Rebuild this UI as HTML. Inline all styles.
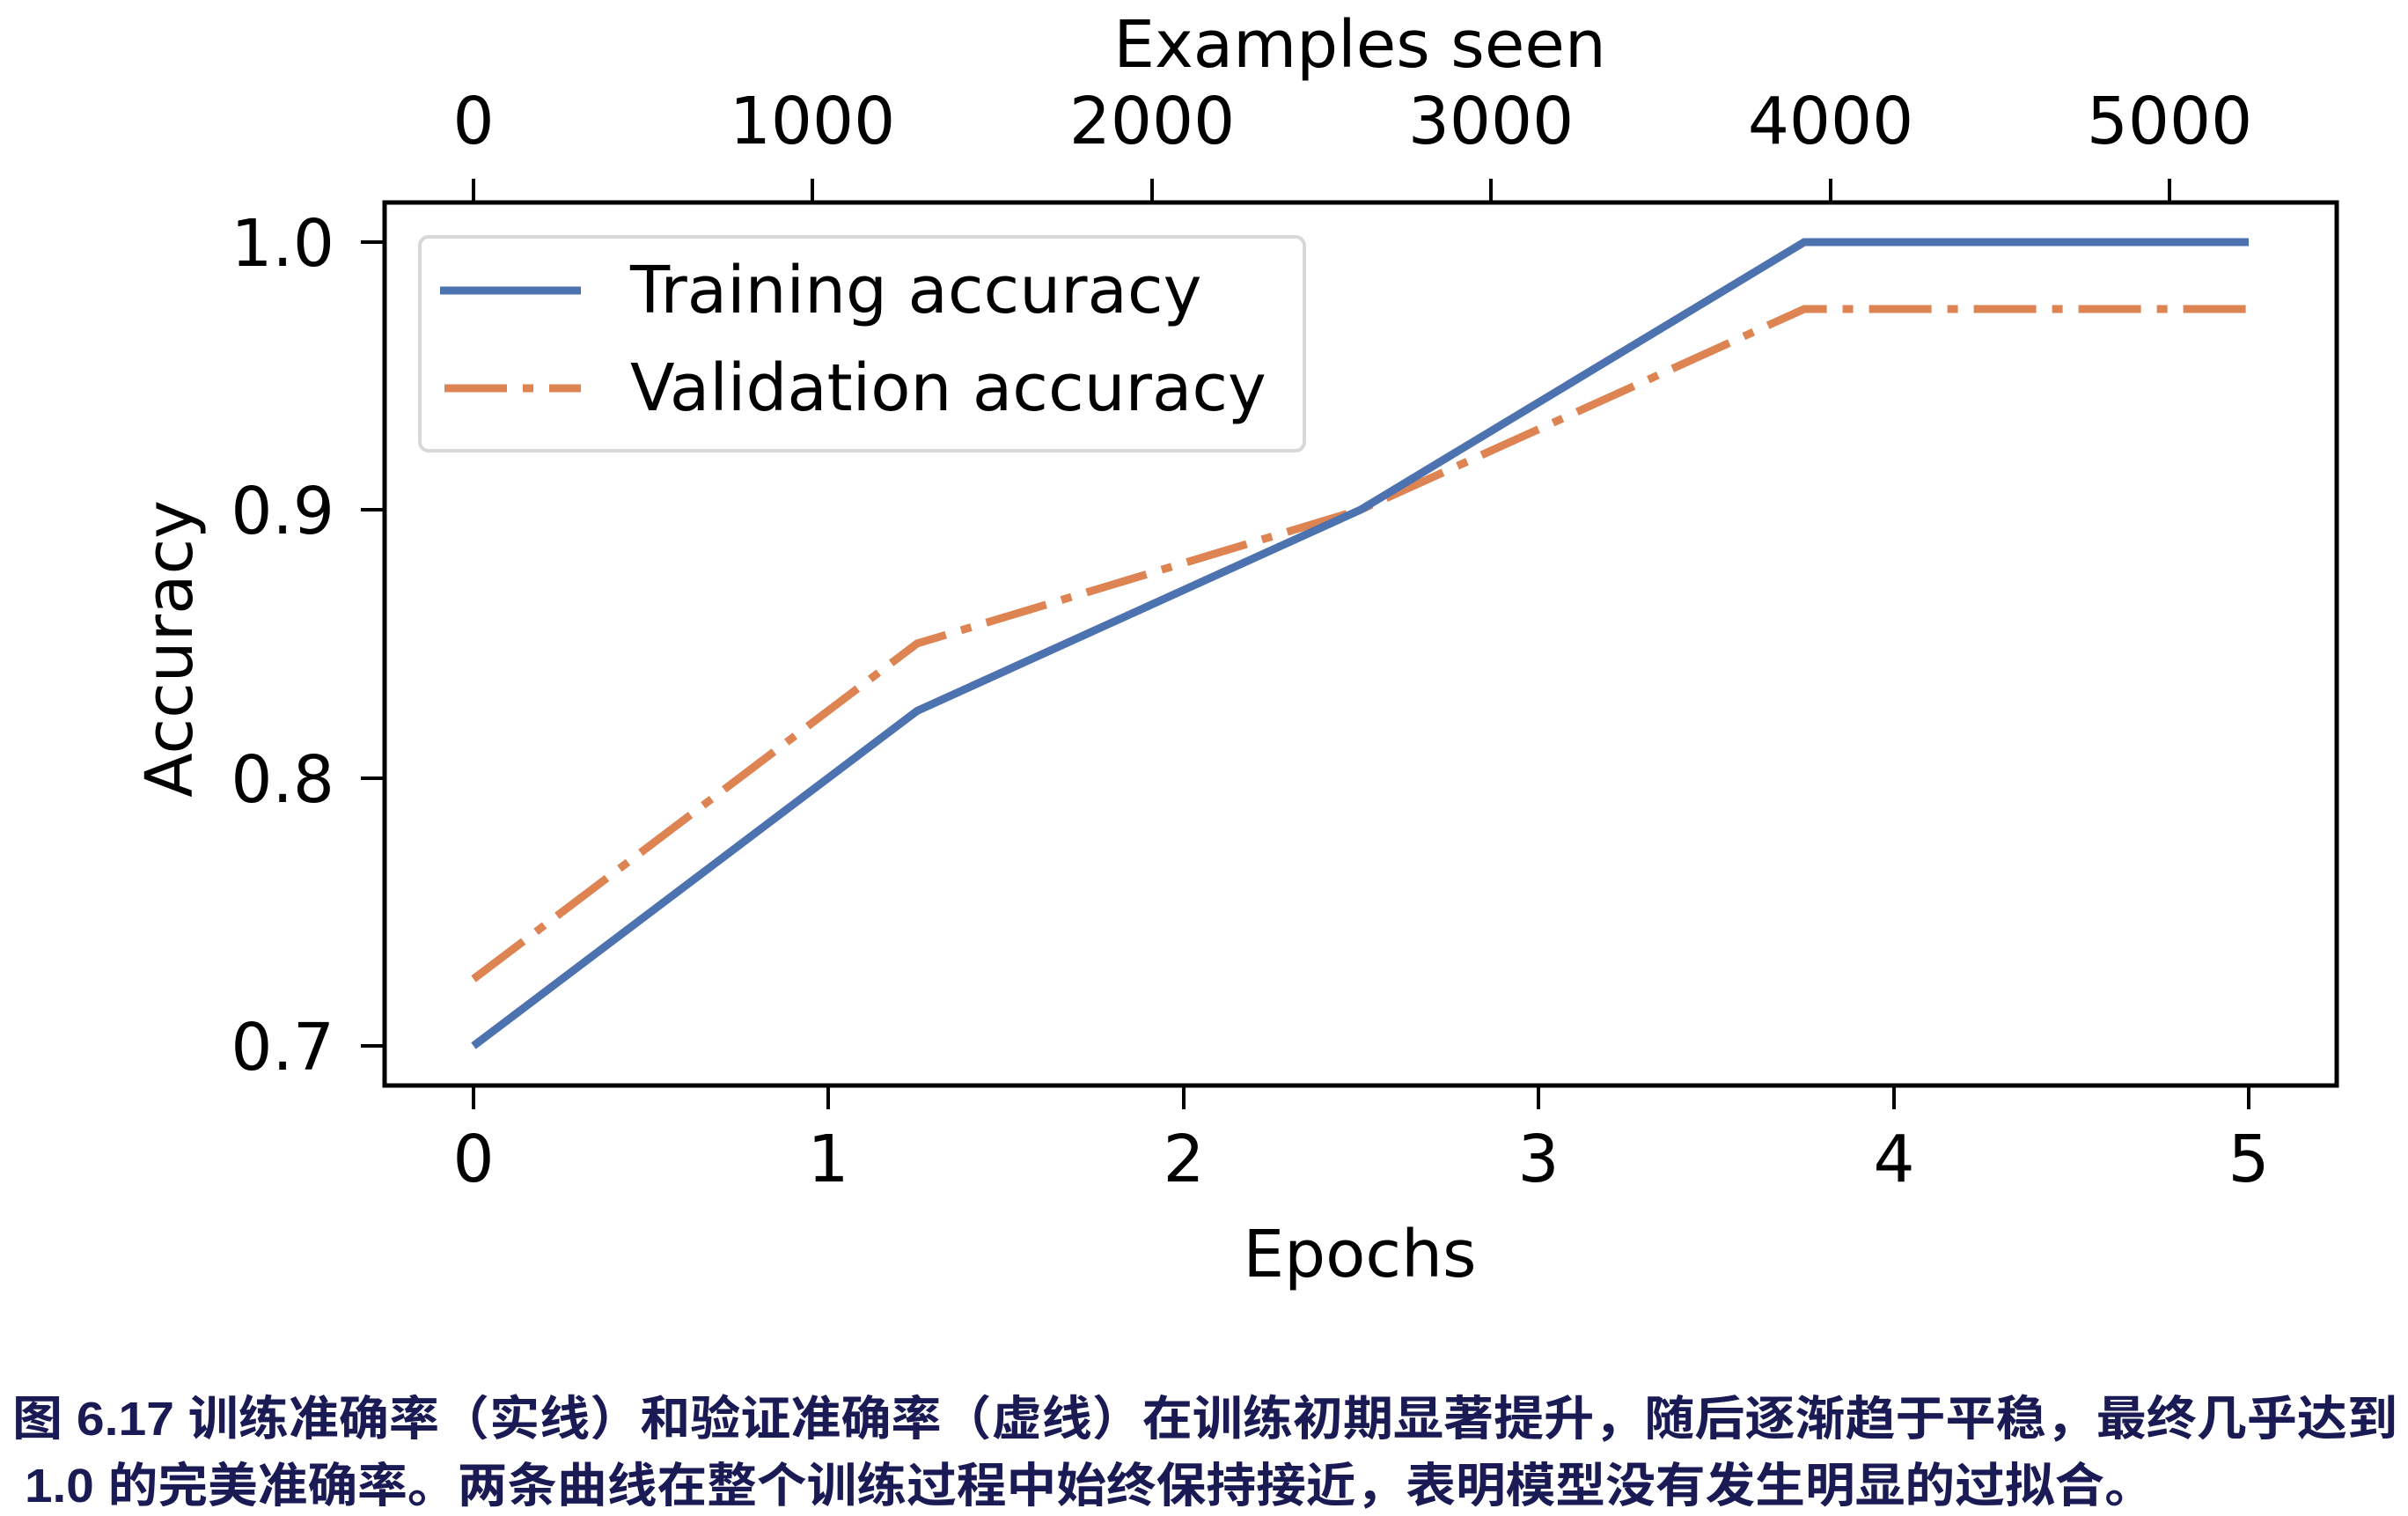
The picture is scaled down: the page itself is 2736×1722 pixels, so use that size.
<!DOCTYPE html>
<html><head><meta charset="utf-8"><style>
html,body{margin:0;padding:0;background:#fff;}
svg{display:block}
</style></head><body>
<svg width="2736" height="1722" viewBox="0 0 2736 1722" xmlns="http://www.w3.org/2000/svg" font-family="'DejaVu Sans','Liberation Sans',sans-serif">
<rect width="2736" height="1722" fill="#fff"/>
<polyline points="538,1112 1042,731 1546,579 2050,351 2555,351" fill="none" stroke="#dd8452" stroke-width="9" stroke-dasharray="71 18 12 18"/>
<polyline points="538,1188 1042,807.5 1546,579 2050,275 2555,275" fill="none" stroke="#4c72b0" stroke-width="9"/>
<rect x="437" y="230" width="2218" height="1003" fill="none" stroke="#000" stroke-width="5"/>
<g stroke="#000" stroke-width="4">
<line x1="410" y1="275" x2="437" y2="275"/>
<line x1="410" y1="579" x2="437" y2="579"/>
<line x1="410" y1="884" x2="437" y2="884"/>
<line x1="410" y1="1188" x2="437" y2="1188"/>
<line x1="538" y1="1233" x2="538" y2="1260"/>
<line x1="941" y1="1233" x2="941" y2="1260"/>
<line x1="1345" y1="1233" x2="1345" y2="1260"/>
<line x1="1748" y1="1233" x2="1748" y2="1260"/>
<line x1="2152" y1="1233" x2="2152" y2="1260"/>
<line x1="2555" y1="1233" x2="2555" y2="1260"/>
<line x1="538" y1="203" x2="538" y2="230"/>
<line x1="923" y1="203" x2="923" y2="230"/>
<line x1="1309" y1="203" x2="1309" y2="230"/>
<line x1="1694" y1="203" x2="1694" y2="230"/>
<line x1="2080" y1="203" x2="2080" y2="230"/>
<line x1="2465" y1="203" x2="2465" y2="230"/>
</g>
<g font-size="74" fill="#000">
<g text-anchor="end">
<text x="380" y="302">1.0</text>
<text x="380" y="606">0.9</text>
<text x="380" y="911">0.8</text>
<text x="380" y="1215">0.7</text>
</g>
<g text-anchor="middle">
<text x="538" y="1342">0</text>
<text x="941" y="1342">1</text>
<text x="1345" y="1342">2</text>
<text x="1748" y="1342">3</text>
<text x="2152" y="1342">4</text>
<text x="2555" y="1342">5</text>
<text x="1545" y="1450">Epochs</text>
<text x="538" y="163">0</text>
<text x="923" y="163">1000</text>
<text x="1309" y="163">2000</text>
<text x="1694" y="163">3000</text>
<text x="2080" y="163">4000</text>
<text x="2465" y="163">5000</text>
<text x="1545" y="76">Examples seen</text>
<text transform="translate(218,737) rotate(-90)">Accuracy</text>
</g>
</g>
<rect x="477" y="269" width="1005" height="243" rx="10" fill="#fff" fill-opacity="0.85" stroke="#d8d8d8" stroke-width="4"/>
<line x1="500" y1="330" x2="660" y2="330" stroke="#4c72b0" stroke-width="9"/>
<line x1="505" y1="441" x2="660" y2="441" stroke="#dd8452" stroke-width="9" stroke-dasharray="71 18 12 18"/>
<g font-size="74" fill="#000">
<text x="716" y="355">Training accuracy</text>
<text x="716" y="466">Validation accuracy</text>
</g>
<g font-family="'Liberation Sans','Noto Sans CJK SC',sans-serif" font-size="54" font-weight="bold" fill="#1a1a55">
<text x="14" y="1630" textLength="2710" lengthAdjust="spacingAndGlyphs">图 6.17 训练准确率（实线）和验证准确率（虚线）在训练初期显著提升，随后逐渐趋于平稳，最终几乎达到</text>
<text x="28" y="1706" textLength="2420" lengthAdjust="spacingAndGlyphs">1.0 的完美准确率。两条曲线在整个训练过程中始终保持接近，表明模型没有发生明显的过拟合。</text>
</g>
</svg>
</body></html>
